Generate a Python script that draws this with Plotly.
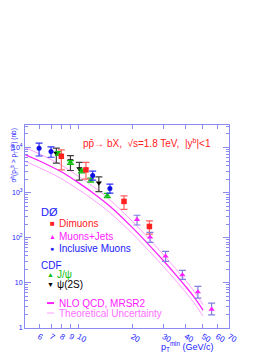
import plotly.graph_objects as go
import math

# ---------------- data ----------------
# DØ Dimuons
dimu_pt = [8.0, 11.0, 18.0, 25.0]
dimu_val = [6400, 3200, 640, 178]
dimu_up = [2500, 1500, 210, 58]
dimu_dn = [3200, 1200, 215, 58]

# DØ Muons+Jets
mj_pt = [21.3, 25.2, 30.8, 38.3, 46.8, 55.9]
mj_val = [254, 103, 39, 15, 6.3, 2.6]
mj_up = [62, 29, 11, 4, 2.1, 0.95]
mj_dn = [62, 24, 9, 3, 1.7, 0.65]

# DØ Inclusive Muons
incl_pt = [6.0, 7.0, 12.0, 15.0]
incl_val = [9600, 8200, 2400, 1230]
incl_up = [3000, 2200, 600, 310]
incl_dn = [3100, 2100, 500, 255]

# CDF J/psi
jpsi_pt = [7.7, 9.0, 10.4, 11.7, 14.5]
jpsi_val = [7400, 4700, 3050, 1900, 870]
jpsi_err = [700, 450, 300, 190, 90]

# CDF psi(2S)
psi2s_pt = [7.5, 9.0, 10.1, 13.0]
psi2s_val = [7500, 5100, 3400, 1650]
psi2s_up = [2200, 1500, 1300, 600]
psi2s_dn = [3000, 2000, 1500, 600]

# NLO QCD theory
th_pt = [5, 6, 7, 8, 10, 12, 15, 20, 25, 30, 35, 40, 45, 50]
th_central = [7000, 5100, 3800, 2900, 1650, 1000, 500, 170, 68, 31, 15.5, 8.3, 4.6, 2.5]
th_upper = [10000, 7300, 5400, 4100, 2300, 1400, 690, 235, 93, 42, 21, 11.2, 6.2, 3.3]
th_lower = [5000, 3600, 2700, 2050, 1170, 710, 360, 125, 50, 23, 11.5, 6.2, 3.4, 1.85]

x_ticks = [6, 7, 8, 9, 10, 20, 30, 40, 50, 60, 70]
y_ticks = [1, 10, 100, 1000, 10000]
y_ticktext = ["1", "10", "10<sup>2</sup>", "10<sup>3</sup>", "10<sup>4</sup>"]

# ---------------- styles ----------------
FONT = "Liberation Sans, Arial, sans-serif"
BLUE = "#2020ff"
FRAME = "#8c8cf0"
RED = "#ff2020"
MAG = "#ff20ff"
LMAG = "#ffa0ff"
GREEN = "#10c010"

fig = go.Figure()

for ys, col, w in [(th_upper, LMAG, 1.0), (th_lower, LMAG, 1.0), (th_central, MAG, 1.3)]:
    fig.add_trace(go.Scatter(x=th_pt, y=ys, mode="lines", line=dict(color=col, width=w, shape="spline"),
                             showlegend=False, hoverinfo="skip"))

def pts(x, y, up, dn, sym, col, ecol, size):
    fig.add_trace(go.Scatter(
        x=x, y=y, mode="markers",
        marker=dict(symbol=sym, color=col, size=size, line=dict(width=0)),
        error_y=dict(type="data", array=up, arrayminus=dn, color=ecol, thickness=1.2, width=3.5),
        showlegend=False))

pts(psi2s_pt, psi2s_val, psi2s_up, psi2s_dn, "triangle-down", "#000000", "#404040", 5.5)
pts(jpsi_pt, jpsi_val, jpsi_err, jpsi_err, "triangle-up", GREEN, GREEN, 5.5)
pts(dimu_pt, dimu_val, dimu_up, dimu_dn, "square", RED, "#ff6060", 5.5)
pts(mj_pt, mj_val, mj_up, mj_dn, "triangle-up", MAG, "#8080e0", 5.5)
pts(incl_pt, incl_val, incl_up, incl_dn, "circle", "#1010e0", "#3030ff", 5)

# page has an 8px body margin: figure starts at (8, 8) in the window
OFF = 8
WIN_W, WIN_H = 274, 354
X0, X1, Y0, Y1 = 25, 229, 125, 328.5     # plot frame in window pixels
W, H = WIN_W - OFF, WIN_H - OFF
L, T = X0 - OFF, Y0 - OFF
R, B = WIN_W - X1, WIN_H - Y1
pw, ph = X1 - X0, Y1 - Y0

def px(x):
    return (x - X0) / pw

def py(y):
    return (Y1 - y) / ph

ann = []
def text(x, y, s, col, size, xanchor="left", **kw):
    ann.append(dict(x=px(x), y=py(y), xref="paper", yref="paper", text=s, showarrow=False,
                    xanchor=xanchor, yanchor="middle", font=dict(family=FONT, size=size, color=col), **kw))

text(81, 143, "pp\u0304\u2192 bX,  \u221As=1.8 TeV,  |y<sup>b</sup>|<1", RED, 10)
text(39, 212, "D\u00D8", BLUE, 11)
text(52, 224, "\u25A0", RED, 8, xanchor="center")
text(57, 224, "Dimuons", RED, 10)
text(52, 236.5, "\u25B2", MAG, 7, xanchor="center")
text(57, 236.5, "Muons+Jets", MAG, 10)
text(52, 248.5, "\u25CF", BLUE, 7, xanchor="center")
text(57, 248.5, "Inclusive Muons", BLUE, 10)
text(39, 266, "CDF", BLUE, 10)
text(50, 274.5, "\u25B2", GREEN, 7, xanchor="center")
text(55, 274.5, "J/\u03C8", GREEN, 10)
text(50, 284.5, "\u25BC", "#000000", 7, xanchor="center")
text(55, 284.5, "\u03C8(2S)", "#000000", 10)
text(57, 303.5, "NLO QCD, MRSR2", MAG, 10)
text(57, 313.5, "Theoretical Uncertainty", "#ff70ff", 10)
text(187, 347, "p<sub>T</sub><sup>min</sup> (GeV/c)", BLUE, 9, xanchor="center")
ann.append(dict(x=px(8), y=py(127), xref="paper", yref="paper", showarrow=False, textangle=-90,
                xanchor="left", yanchor="top",
                text="\u03C3<sup>b</sup>(p<sub>T</sub><sup>b</sup> > p<sub>T</sub><sup>min</sup>) (nb)",
                font=dict(family=FONT, size=6.5, color=BLUE)))

shapes = [
    dict(type="line", xref="paper", yref="paper", x0=px(47), x1=px(54), y0=py(303.5), y1=py(303.5),
         line=dict(color=MAG, width=2)),
    dict(type="line", xref="paper", yref="paper", x0=px(47), x1=px(54), y0=py(313.5), y1=py(313.5),
         line=dict(color=LMAG, width=1)),
]

axis_common = dict(showline=True, linecolor=FRAME, linewidth=1, mirror="allticks", ticks="inside",
                   tickcolor=FRAME, showgrid=False, zeroline=False, automargin=False)

fig.update_xaxes(type="log", range=[math.log10(5), math.log10(70)], tickvals=x_ticks,
                 ticktext=[str(v) for v in x_ticks], ticklen=4,
                 tickfont=dict(family=FONT, size=8, color=BLUE), **axis_common)
fig.update_yaxes(type="log", range=[0, 4.5], tickvals=y_ticks, ticktext=y_ticktext, ticklen=6,
                 ticklabelstandoff=0, tickfont=dict(family=FONT, size=7, color=BLUE),
                 minor=dict(ticks="inside", ticklen=3, tickcolor=FRAME, dtick="D1"), **axis_common)

fig.update_layout(width=W, height=H, margin=dict(l=L, r=R, t=T, b=B, pad=0, autoexpand=False),
                  paper_bgcolor="white", plot_bgcolor="white", annotations=ann, shapes=shapes,
                  showlegend=False)

fig.write_html("out.html")
